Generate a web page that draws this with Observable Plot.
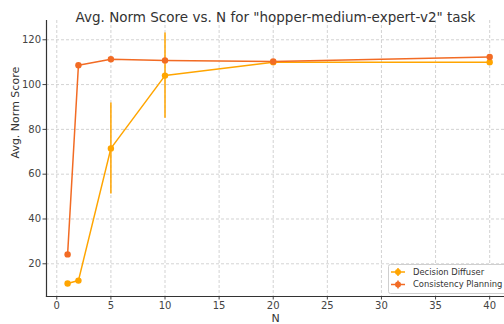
<!DOCTYPE html>
<html>
<head>
<meta charset="utf-8">
<script src="https://cdn.jsdelivr.net/npm/d3@7"></script>
<script src="https://cdn.jsdelivr.net/npm/@observablehq/plot@0.6"></script>
<style>
  html, body { margin: 0; padding: 0; background: #fff; }
  svg { font-family: "DejaVu Sans", sans-serif; }
</style>
</head>
<body>
<div id="chart"></div>
<script>
const titleText = 'Avg. Norm Score vs. N for "hopper-medium-expert-v2" task';
const xLabel = "N";
const yLabel = "Avg. Norm Score";
const seriesNames = ["Decision Diffuser", "Consistency Planning"];
const seriesColors = ["#FFA500", "#F26B24"];
const nValues = [1, 2, 5, 10, 20, 40];
const ddScores = [11.2, 12.5, 71.5, 104.0, 110.0, 110.0];
const ddErrors = [0.4, 0.4, 20.3, 19.0, 0.5, 0.5];
const cpScores = [24.2, 108.6, 111.3, 110.8, 110.3, 112.3];
const cpErrors = [0.3, 0.3, 0.6, 0.6, 0.4, 1.0];
const xTicks = [0, 5, 10, 15, 20, 25, 30, 35, 40];
const yTicks = [20, 40, 60, 80, 100, 120];

const rows = [];
nValues.forEach((n, i) => {
  rows.push({series: seriesNames[0], N: n, score: ddScores[i], err: ddErrors[i]});
});
nValues.forEach((n, i) => {
  rows.push({series: seriesNames[1], N: n, score: cpScores[i], err: cpErrors[i]});
});
const colorOf = s => seriesColors[seriesNames.indexOf(s)];

const W = 504, H = 324;
const plot = Plot.plot({
  width: W,
  height: H,
  marginLeft: 46,
  marginRight: 0,
  marginTop: 20,
  marginBottom: 28,
  style: {fontFamily: "DejaVu Sans, sans-serif", fontSize: "10px", color: "#333", background: "#fff"},
  x: {domain: [-0.95, 41.37], ticks: xTicks, label: null},
  y: {domain: [5.4, 128.6], ticks: yTicks, label: null},
  marks: [
    Plot.gridX(xTicks, {stroke: "#c8c8c8", strokeOpacity: 1, strokeDasharray: "3,2", strokeWidth: 0.8}),
    Plot.gridY(yTicks, {stroke: "#c8c8c8", strokeOpacity: 1, strokeDasharray: "3,2", strokeWidth: 0.8}),
    Plot.axisX(xTicks, {tickSize: 3.5, tickPadding: 2, fontSize: 10, fill: "#444", stroke: "#444", label: null}),
    Plot.axisY(yTicks, {tickSize: 3.5, tickPadding: 2, fontSize: 10, fill: "#444", stroke: "#444", label: null}),
    Plot.frame({anchor: "left", stroke: "#333", strokeWidth: 1.2}),
    Plot.frame({anchor: "bottom", stroke: "#333", strokeWidth: 1.2}),
    Plot.ruleX(rows, {x: "N", y1: d => d.score - d.err, y2: d => d.score + d.err, stroke: d => colorOf(d.series), strokeWidth: 1.5}),
    Plot.line(rows, {x: "N", y: "score", z: "series", stroke: d => colorOf(d.series), strokeWidth: 1.5}),
    Plot.dot(rows, {x: "N", y: "score", fill: d => colorOf(d.series), r: 3.2, stroke: "none"}),
    Plot.text([titleText], {frameAnchor: "top", dy: -8, fontSize: 13.5, fill: "#333", text: d => d}),
    Plot.text([xLabel], {frameAnchor: "bottom", lineAnchor: "bottom", dy: 25, fontSize: 11, fill: "#333", text: d => d}),
    Plot.text([yLabel], {frameAnchor: "left", dx: -31, rotate: -90, fontSize: 11, fill: "#333", text: d => d})
  ]
});
document.getElementById("chart").appendChild(plot);

// legend
const svg = d3.select(plot);
const lg = svg.append("g").attr("transform", "translate(388,264)")
  .attr("text-anchor", "start").attr("font-family", "DejaVu Sans, sans-serif");
lg.append("rect").attr("x", 0.5).attr("y", 0.5).attr("width", 130).attr("height", 29)
  .attr("rx", 2).attr("fill", "#ffffff").attr("stroke", "#cfcfcf").attr("stroke-width", 1);
seriesNames.forEach((name, i) => {
  const yy = 8 + i * 12.5;
  const g = lg.append("g");
  g.append("line").attr("x1", 3).attr("x2", 17).attr("y1", yy).attr("y2", yy)
    .attr("stroke", seriesColors[i]).attr("stroke-width", 1.5);
  g.append("line").attr("x1", 10).attr("x2", 10).attr("y1", yy - 4).attr("y2", yy + 4)
    .attr("stroke", seriesColors[i]).attr("stroke-width", 1.5);
  g.append("circle").attr("cx", 10).attr("cy", yy).attr("r", 3).attr("fill", seriesColors[i]);
  g.append("text").attr("x", 25).attr("y", yy).attr("dy", "0.35em").attr("text-anchor", "start")
    .attr("font-size", 8.4).attr("fill", "#333").text(name);
});
</script>
</body>
</html>
